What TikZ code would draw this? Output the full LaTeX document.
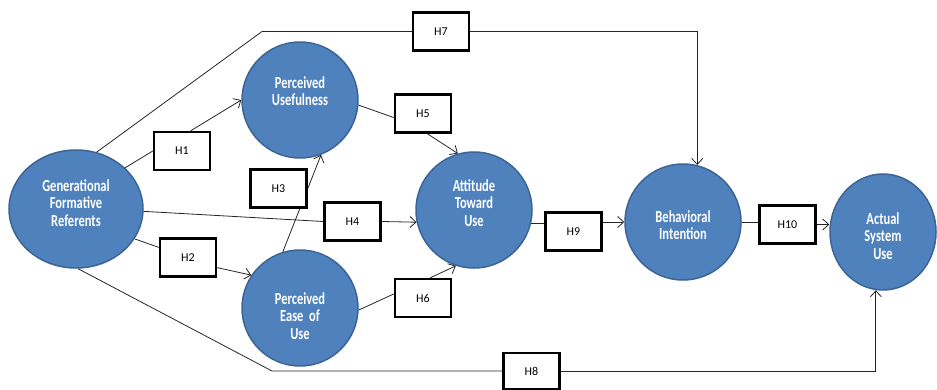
\documentclass[tikz,border=0pt]{standalone}
\usepackage{fontspec}
\setmainfont{Carlito}
\usepackage{graphicx}
\usetikzlibrary{shapes.geometric,arrows.meta,calc}
\definecolor{cfill}{RGB}{79,129,189}
\definecolor{cedge}{RGB}{60,100,150}
\newcommand{\tl}[1]{\scalebox{1}[1.35]{#1}}
\tikzset{
  circ/.style={circle,fill=cfill,draw=cedge,line width=1.5pt,minimum size=116pt,inner sep=0pt},
  ell/.style={ellipse,fill=cfill,draw=cedge,line width=1.5pt,minimum width=134pt,minimum height=118pt,inner sep=0pt},
  ctext/.style={text=white,font=\bfseries\fontsize{12.5}{17.5}\selectfont,align=center},
  hbox/.style={draw=black,fill=white,line width=2.5pt,minimum width=56pt,minimum height=38pt,inner sep=0pt,font=\fontsize{12}{14}\selectfont},
  conn/.style={draw=black!85,line width=0.8pt},
  arr/.style={conn,-{Straight Barb[length=6pt,width=11pt]}}
}
\begin{document}
\begin{tikzpicture}[x=1pt,y=-1pt]
\useasboundingbox (0,0) rectangle (937,390);
% circles
\node[ell,label={[ctext,yshift=6]center:{\tl{Generational}\\\tl{Formative}\\\tl{Referents}}}] (gfr) at (76,209) {};
\node[circ,label={[ctext,yshift=9]center:{\tl{Perceived}\\\tl{Usefulness}}}] (pu) at (300,100) {};
\node[circ,label={[ctext,yshift=-8]center:{\tl{Perceived}\\\tl{Ease\ \ of}\\\tl{Use}}}] (pe) at (300,308) {};
\node[circ,label={[ctext,yshift=7]center:{\tl{Attitude}\\\tl{Toward}\\\tl{Use}}}] (at) at (474,210) {};
\node[circ,label={[ctext,yshift=-3]center:{\tl{Behavioral}\\\tl{Intention}}}] (bi) at (683,222) {};
\node[ellipse,fill=cfill,draw=cedge,line width=1.5pt,minimum width=106pt,minimum height=116pt,inner sep=0pt,label={[ctext,yshift=-4]center:{\tl{Actual}\\\tl{System}\\\tl{Use}}}] (asu) at (883,232) {};
% corner coordinates
\coordinate (c7) at (262,31.5);
\coordinate (c8) at (272,371);
% H3 line under its box
\draw[arr] (pe.107) -- (pu.-69);
% boxes
\node[hbox] (h1) at (182,151) {H1};
\node[hbox] (h2) at (188,257.5) {H2};
\node[hbox] (h3) at (278.5,188.5) {H3};
\node[hbox] (h4) at (352.5,221.5) {H4};
\node[hbox] (h5) at (423,113.5) {H5};
\node[hbox] (h6) at (423,298) {H6};
\node[hbox] (h7) at (441,31.5) {H7};
\node[hbox,minimum height=36pt] (h8) at (531.5,371) {H8};
\node[hbox] (h9) at (573.5,231.5) {H9};
\node[hbox] (h10) at (787.5,224.5) {H10};
% connectors
\draw[conn] (gfr.40) -- (h1.west);
\draw[arr] ($(h1.north)!0.3!(h1.north east)$) -- (pu.west);
\draw[conn] (gfr.-27) -- ($(h2.west)!0.5!(h2.north west)$);
\draw[arr] ($(h2.east)!0.5!(h2.south east)$) -- (pe.146);
\draw[conn] (gfr.-2) -- (h4.west);
\draw[arr] (h4.east) -- (at.-168);
\draw[conn] (pu.-5) -- ($(h5.west)!0.2!(h5.south west)$);
\draw[arr] ($(h5.south)!0.15!(h5.south east)$) -- (at.106);
\draw[conn] (pe.-2) -- ($(h6.west)!0.2!(h6.north west)$);
\draw[arr] ($(h6.north)!0.25!(h6.north east)$) -- (at.-108);
\draw[conn] (at.-13) -- (at.-13 -| h9.west);
\draw[arr] (h9.east |- bi.west) -- (bi.west);
\draw[conn] (bi.east) -- (bi.east -| h10.west);
\draw[arr] (h10.east) -- (h10.east -| asu.west);
\draw[conn] (gfr.70) -- (c7) -- (h7.west);
\draw[arr] (h7.east) -| (bi.76);
\draw[conn] (gfr.-88) -- (c8) -- (h8.west);
\draw[arr] (h8.east) -| (asu.-97);
\end{tikzpicture}
\end{document}
